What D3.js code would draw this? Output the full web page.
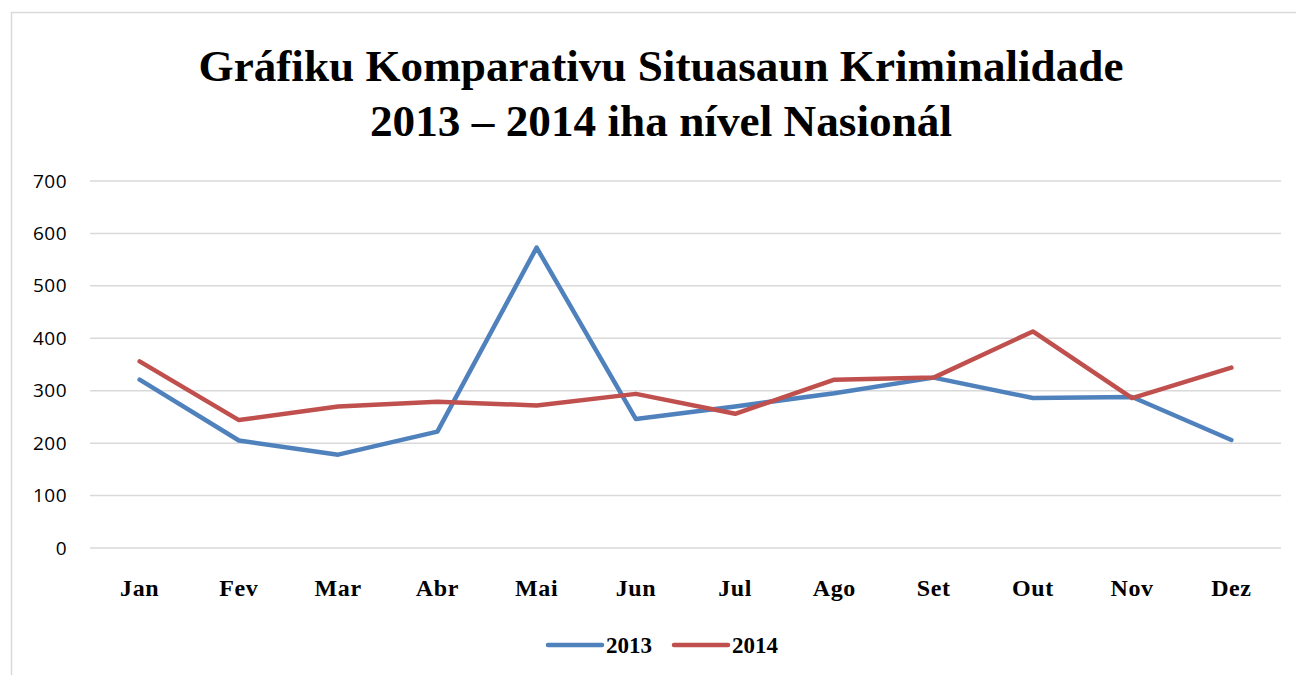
<!DOCTYPE html>
<html>
<head>
<meta charset="utf-8">
<script src="https://cdn.jsdelivr.net/npm/d3@7"></script>
<style>
  body { margin: 0; background: #fff; }
  svg { display: block; }
</style>
</head>
<body>
<div id="chart"></div>
<script>
// data
var months = ["Jan", "Fev", "Mar", "Abr", "Mai", "Jun", "Jul", "Ago", "Set", "Out", "Nov", "Dez"];
var values2013 = [321, 205, 178, 222, 573, 246, 270, 295, 325, 286, 288, 206];
var values2014 = [356, 244, 270, 279, 272, 294, 256, 321, 325, 413, 286, 344];
var yTicks = [0, 100, 200, 300, 400, 500, 600, 700];
var titleLines = ["Gráfiku Komparativu Situasaun Kriminalidade", "2013 – 2014 iha nível Nasionál"];

var svgWidth = 1296;
var svgHeight = 675;

var margin = { top: 181, right: 15, bottom: 127, left: 90 };
var width = svgWidth - margin.left - margin.right;
var height = svgHeight - margin.top - margin.bottom;

var serif = "'Liberation Serif', 'DejaVu Serif', serif";

var svg = d3.select("#chart")
  .append("svg")
  .attr("width", svgWidth)
  .attr("height", svgHeight);

// outer frame (runs off the right and bottom edge)
svg.append("rect")
  .attr("x", 11.5)
  .attr("y", 12.5)
  .attr("width", 1400)
  .attr("height", 800)
  .attr("fill", "none")
  .attr("stroke", "#d9d9d9")
  .attr("stroke-width", 1.5);

// title
var titleWidths = [925, 582];
var titleY = [81, 136];
titleLines.forEach(function(t, i) {
  var txt = svg.append("text")
    .attr("x", 661)
    .attr("y", titleY[i])
    .attr("text-anchor", "middle")
    .style("font-family", serif)
    .style("font-weight", "bold")
    .style("font-size", "42px")
    .attr("fill", "#000")
    .text(t);
  // scale the font so the line width matches the reference
  var w = txt.node().getComputedTextLength();
  txt.style("font-size", (42 * titleWidths[i] / w).toFixed(2) + "px");
});

var chartGroup = svg.append("g")
  .attr("transform", `translate(${margin.left}, ${margin.top})`);

var xScale = d3.scaleBand()
  .domain(months)
  .range([0, width]);

var yScale = d3.scaleLinear()
  .domain([0, 700])
  .range([height, 0]);

// gridlines
chartGroup.append("g")
  .selectAll("line")
  .data(yTicks)
  .enter()
  .append("line")
  .attr("x1", 0)
  .attr("x2", width)
  .attr("y1", d => yScale(d))
  .attr("y2", d => yScale(d))
  .attr("stroke", "#d9d9d9")
  .attr("stroke-width", 1.5);

// y axis
var leftAxis = d3.axisLeft(yScale)
  .tickValues(yTicks)
  .tickSize(0)
  .tickPadding(23);

chartGroup.append("g")
  .call(leftAxis)
  .call(g => g.select(".domain").remove())
  .selectAll("text")
  .style("font-family", "'Open Sans', sans-serif")
  .style("font-size", "19px")
  .style("letter-spacing", "0.5px")
  .attr("fill", "#000");

// x axis
var bottomAxis = d3.axisBottom(xScale)
  .tickSize(0)
  .tickPadding(31);

chartGroup.append("g")
  .attr("transform", `translate(0, ${height})`)
  .call(bottomAxis)
  .call(g => g.select(".domain").remove())
  .selectAll("text")
  .style("font-family", serif)
  .style("font-weight", "bold")
  .style("font-size", "24px")
  .style("letter-spacing", "0.6px")
  .attr("fill", "#000");

// lines
var line = d3.line()
  .x((d, i) => xScale(months[i]) + xScale.bandwidth() / 2)
  .y(d => yScale(d));

var series = [
  { name: "2013", values: values2013, color: "#4f81bd" },
  { name: "2014", values: values2014, color: "#c0504d" }
];

chartGroup.selectAll(".series")
  .data(series)
  .enter()
  .append("path")
  .attr("class", "series")
  .attr("d", d => line(d.values))
  .attr("fill", "none")
  .attr("stroke", d => d.color)
  .attr("stroke-width", 4.5)
  .attr("stroke-linecap", "round")
  .attr("stroke-linejoin", "round");

// legend
var legendX = [548, 674];
var legend = svg.selectAll(".legend")
  .data(series)
  .enter()
  .append("g")
  .attr("class", "legend")
  .attr("transform", (d, i) => `translate(${legendX[i]}, 645)`);

legend.append("line")
  .attr("x1", 0)
  .attr("x2", 54)
  .attr("y1", 0)
  .attr("y2", 0)
  .attr("stroke", d => d.color)
  .attr("stroke-width", 4.5)
  .attr("stroke-linecap", "round");

legend.append("text")
  .attr("x", 58)
  .attr("y", 8)
  .style("font-family", serif)
  .style("font-weight", "bold")
  .style("font-size", "23px")
  .attr("fill", "#000")
  .text(d => d.name);
</script>
</body>
</html>
